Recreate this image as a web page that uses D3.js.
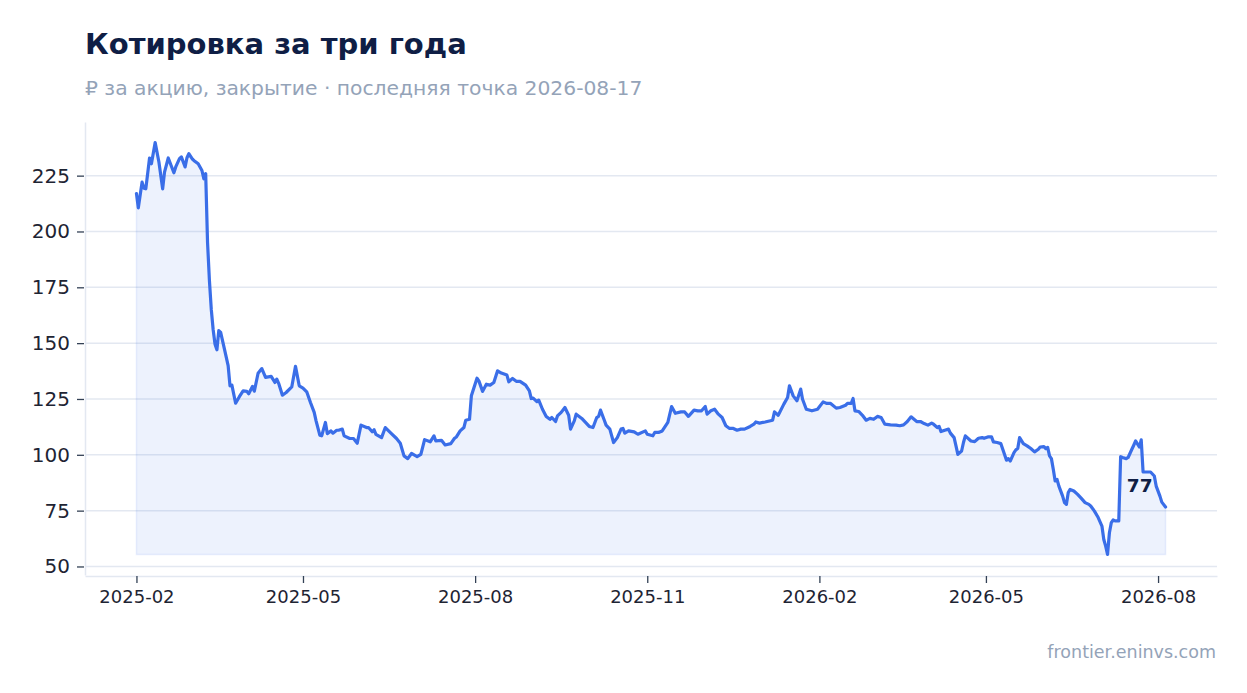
<!DOCTYPE html>
<html>
<head>
<meta charset="utf-8">
<script src="https://cdn.jsdelivr.net/npm/d3@7"></script>
<style>
  body { margin: 0; background: #fff; }
  svg text { font-family: "DejaVu Sans", sans-serif; }
  .grid line { stroke: #e3e8f1; stroke-width: 1.5; }
  .axis path { stroke: #e3e8f1; stroke-width: 1.5; }
  .axis line { stroke: #334155; stroke-width: 1.3; }
  .axis text { fill: #1e2433; }
</style>
</head>
<body>
<div id="chart"></div>
<script>
// closing price per share
const dates = [
  "2025-02-01","2025-02-02","2025-02-04","2025-02-05","2025-02-06","2025-02-08","2025-02-09","2025-02-11","2025-02-13","2025-02-15",
  "2025-02-16","2025-02-18","2025-02-21","2025-02-22","2025-02-24","2025-02-25","2025-02-27","2025-02-28","2025-03-01","2025-03-03",
  "2025-03-04","2025-03-06","2025-03-08","2025-03-09","2025-03-10","2025-03-11","2025-03-12","2025-03-13","2025-03-14","2025-03-15",
  "2025-03-16","2025-03-17","2025-03-18","2025-03-20","2025-03-22","2025-03-23","2025-03-24","2025-03-26","2025-03-28","2025-03-30",
  "2025-04-01","2025-04-02","2025-04-04","2025-04-05","2025-04-07","2025-04-09","2025-04-11","2025-04-14","2025-04-16","2025-04-17",
  "2025-04-18","2025-04-20","2025-04-22","2025-04-25","2025-04-27","2025-04-29","2025-05-01","2025-05-03","2025-05-05","2025-05-07",
  "2025-05-08","2025-05-10","2025-05-11","2025-05-13","2025-05-14","2025-05-16","2025-05-17","2025-05-19","2025-05-20","2025-05-22",
  "2025-05-23","2025-05-26","2025-05-28","2025-05-30","2025-06-01","2025-06-04","2025-06-05","2025-06-07","2025-06-08","2025-06-09",
  "2025-06-12","2025-06-14","2025-06-17","2025-06-20","2025-06-22","2025-06-24","2025-06-26","2025-06-28","2025-07-01","2025-07-03",
  "2025-07-05","2025-07-08","2025-07-10","2025-07-11","2025-07-14","2025-07-16","2025-07-19","2025-07-21","2025-07-22","2025-07-24",
  "2025-07-26","2025-07-27","2025-07-29","2025-07-30","2025-08-02","2025-08-03","2025-08-05","2025-08-07","2025-08-09","2025-08-11",
  "2025-08-13","2025-08-15","2025-08-18","2025-08-19","2025-08-21","2025-08-23","2025-08-25","2025-08-28","2025-08-30","2025-08-31",
  "2025-09-01","2025-09-03","2025-09-04","2025-09-06","2025-09-08","2025-09-10","2025-09-11","2025-09-13","2025-09-14","2025-09-16",
  "2025-09-18","2025-09-20","2025-09-21","2025-09-23","2025-09-24","2025-09-27","2025-09-29","2025-10-01","2025-10-03","2025-10-05",
  "2025-10-06","2025-10-07","2025-10-09","2025-10-10","2025-10-12","2025-10-14","2025-10-16","2025-10-18","2025-10-19","2025-10-20",
  "2025-10-22","2025-10-25","2025-10-27","2025-10-31","2025-11-01","2025-11-04","2025-11-05","2025-11-07","2025-11-09","2025-11-12",
  "2025-11-14","2025-11-16","2025-11-19","2025-11-21","2025-11-23","2025-11-26","2025-11-28","2025-11-30","2025-12-02","2025-12-03",
  "2025-12-05","2025-12-07","2025-12-09","2025-12-11","2025-12-13","2025-12-15","2025-12-17","2025-12-19","2025-12-21","2025-12-23",
  "2025-12-26","2025-12-28","2025-12-29","2025-12-31","2026-01-03","2026-01-07","2026-01-08","2026-01-10","2026-01-13","2026-01-15",
  "2026-01-16","2026-01-18","2026-01-20","2026-01-22","2026-01-23","2026-01-25","2026-01-28","2026-01-31","2026-02-03","2026-02-05",
  "2026-02-07","2026-02-10","2026-02-12","2026-02-15","2026-02-16","2026-02-18","2026-02-19","2026-02-20","2026-02-22","2026-02-24",
  "2026-02-26","2026-02-28","2026-03-02","2026-03-04","2026-03-06","2026-03-08","2026-03-11","2026-03-14","2026-03-16","2026-03-18",
  "2026-03-20","2026-03-22","2026-03-25","2026-03-27","2026-03-29","2026-03-31","2026-04-02","2026-04-03","2026-04-05","2026-04-06",
  "2026-04-07","2026-04-09","2026-04-11","2026-04-12","2026-04-14","2026-04-15","2026-04-16","2026-04-18","2026-04-19","2026-04-20",
  "2026-04-23","2026-04-25","2026-04-27","2026-04-29","2026-04-30","2026-05-02","2026-05-04","2026-05-05","2026-05-07","2026-05-09",
  "2026-05-10","2026-05-12","2026-05-13","2026-05-14","2026-05-16","2026-05-17","2026-05-18","2026-05-19","2026-05-21","2026-05-23",
  "2026-05-25","2026-05-27","2026-05-29","2026-05-30","2026-06-01","2026-06-02","2026-06-03","2026-06-04","2026-06-05","2026-06-06",
  "2026-06-07","2026-06-08","2026-06-09","2026-06-11","2026-06-12","2026-06-13","2026-06-14","2026-06-15","2026-06-17","2026-06-19",
  "2026-06-21","2026-06-23","2026-06-25","2026-06-26","2026-06-28","2026-06-30","2026-07-02","2026-07-03","2026-07-04","2026-07-05",
  "2026-07-06","2026-07-07","2026-07-08","2026-07-09","2026-07-11","2026-07-12","2026-07-13","2026-07-15","2026-07-16","2026-07-18",
  "2026-07-19","2026-07-20","2026-07-22","2026-07-23","2026-07-24","2026-07-26","2026-07-28","2026-07-30","2026-07-31","2026-08-02",
  "2026-08-03","2026-08-05"
];

const prices = [
  217.0,210.6,222.1,219.4,219.1,232.9,230.3,239.8,231.1,219.1,
  226.6,232.9,226.3,228.9,232.6,233.4,228.9,233.0,234.8,232.3,
  231.6,230.3,227.3,223.6,225.9,195.0,178.0,165.0,156.0,149.5,
  147.0,155.6,154.8,147.4,139.9,130.9,131.2,123.1,126.0,128.6,
  128.4,127.3,130.6,128.5,136.5,138.6,134.7,135.1,132.4,133.9,
  132.0,126.7,127.9,130.4,139.6,130.9,129.9,128.2,123.4,119.0,
  115.2,108.8,108.5,114.5,109.5,110.7,109.7,111.0,111.0,111.5,
  108.5,107.3,107.3,105.2,113.3,112.2,112.2,110.3,111.2,109.2,
  107.7,112.2,109.7,107.3,105.2,99.5,98.3,100.6,99.2,100.2,
  106.8,105.8,108.5,106.2,106.5,104.4,105.0,107.4,108.0,110.7,
  112.2,115.5,115.9,126.4,134.3,133.1,128.4,131.6,131.2,132.4,
  137.6,136.6,135.7,132.7,134.2,132.9,132.9,131.2,128.6,125.2,
  125.4,123.8,124.5,120.4,117.2,115.9,116.7,114.9,117.4,119.0,
  121.2,117.7,111.5,115.2,118.2,116.3,114.5,112.7,112.2,116.7,
  117.2,120.0,115.6,113.3,111.5,105.5,107.7,111.5,111.8,109.7,
  110.7,110.3,109.2,110.7,109.2,108.5,110.0,110.0,110.7,114.5,
  121.6,118.6,119.2,119.2,117.2,120.0,119.7,119.7,121.6,118.2,
  119.7,120.4,118.2,116.7,113.0,111.8,111.8,111.0,111.5,111.5,
  112.7,113.7,114.7,114.2,114.7,115.5,119.2,117.7,122.7,125.7,
  130.9,126.4,124.2,129.4,124.9,120.4,119.7,120.4,123.7,123.0,
  123.0,120.9,121.2,122.2,123.0,123.0,125.2,119.7,119.4,117.7,
  115.5,116.3,115.9,117.2,116.7,113.7,113.4,113.3,113.0,113.4,
  114.9,117.0,114.9,114.9,114.0,113.3,114.2,113.7,112.2,112.7,
  110.4,111.0,111.5,109.7,107.7,104.0,100.2,101.7,105.5,108.5,
  106.2,105.9,107.4,107.7,107.4,108.0,108.0,105.8,105.5,105.0,
  102.5,97.6,98.3,97.2,101.0,102.2,102.8,107.7,105.0,104.0,
  102.8,101.3,102.5,103.5,103.7,102.8,103.3,99.5,98.3,93.5,
  88.3,89.0,86.0,81.5,78.6,77.8,83.1,84.5,83.8,82.3,
  80.5,78.6,77.8,77.1,74.8,71.9,68.1,62.1,59.1,55.4,
  65.1,69.6,70.8,70.4,70.4,99.2,98.8,98.3,98.8,102.5,
  104.3,106.2,103.5,106.7,92.3,92.3,92.3,90.5,86.0,81.5,
  78.8,76.6
];

const yTicks = [50, 75, 100, 125, 150, 175, 200, 225];
const xTicks = ["2025-02-01","2025-05-01","2025-08-01","2025-11-01","2026-02-01","2026-05-01","2026-08-01"];

const title = "Котировка за три года";
const subtitle = "₽ за акцию, закрытие · последняя точка 2026-08-17";
const source = "frontier.eninvs.com";

const parse = d3.timeParse("%Y-%m-%d");
let data = dates.map((d, i) => ({ date: parse(d), price: prices[i] }));

let width = 1247,
    height = 693,
    margin = {top: 122, right: 30, bottom: 118, left: 85};

let innerW = width - margin.left - margin.right,
    innerH = height - margin.top - margin.bottom;

let svg = d3.select("#chart")
  .append("svg")
  .attr("width", width)
  .attr("height", height);

// title + subtitle
svg.append("text")
   .attr("x", margin.left)
   .attr("y", 54)
   .attr("font-size", 29)
   .attr("font-weight", "bold")
   .attr("fill", "#0f1e45")
   .text(title);

svg.append("text")
   .attr("x", margin.left)
   .attr("y", 95)
   .attr("font-size", 20.3)
   .attr("fill", "#94a3b8")
   .text(subtitle);

svg.append("text")
   .attr("x", width - margin.right - 1)
   .attr("y", 658)
   .attr("text-anchor", "end")
   .attr("font-size", 17.5)
   .attr("fill", "#94a3b8")
   .text(source);

let g = svg.append("g")
  .attr("transform", `translate(${margin.left},${margin.top})`);

// 5% padding on both scales, like the original
let xExt = d3.extent(data, d => d.date);
let xPad = (xExt[1] - xExt[0]) * 0.05;
let xScale = d3.scaleTime()
  .domain([new Date(+xExt[0] - xPad), new Date(+xExt[1] + xPad)])
  .range([0, innerW]);

let yExt = d3.extent(data, d => d.price);
let yPad = (yExt[1] - yExt[0]) * 0.05;
let yScale = d3.scaleLinear()
  .domain([yExt[0] - yPad, yExt[1] + yPad])
  .range([innerH, 0]);

// horizontal grid
g.append("g")
 .attr("class", "grid")
 .selectAll("line")
 .data(yTicks)
 .enter().append("line")
 .attr("x1", 0)
 .attr("x2", innerW)
 .attr("y1", d => yScale(d))
 .attr("y2", d => yScale(d));

// area down to the lowest close
let area = d3.area()
  .x(d => xScale(d.date))
  .y0(yScale(yExt[0]))
  .y1(d => yScale(d.price));

g.append("path")
 .datum(data)
 .attr("d", area)
 .attr("fill", "#3a6ee8")
 .attr("fill-opacity", 0.09)
 .attr("stroke", "#3a6ee8")
 .attr("stroke-opacity", 0.1)
 .attr("stroke-width", 1.5);

let line = d3.line()
  .x(d => xScale(d.date))
  .y(d => yScale(d.price));

g.append("path")
 .datum(data)
 .attr("d", line)
 .attr("fill", "none")
 .attr("stroke", "#3a6ee8")
 .attr("stroke-width", 3.2)
 .attr("stroke-linejoin", "round")
 .attr("stroke-linecap", "round");

// axes
let xAxis = d3.axisBottom(xScale)
  .tickValues(xTicks.map(parse))
  .tickFormat(d3.timeFormat("%Y-%m"))
  .tickSize(7)
  .tickPadding(7)
  .tickSizeOuter(0);

let yAxis = d3.axisLeft(yScale)
  .tickValues(yTicks)
  .tickSize(7)
  .tickPadding(8)
  .tickSizeOuter(0);

g.append("g")
 .attr("class", "x axis")
 .attr("transform", `translate(0,${innerH + 1})`)
 .call(xAxis)
 .selectAll("text")
 .attr("font-size", 18);

g.append("g")
 .attr("class", "y axis")
 .call(yAxis)
 .selectAll("text")
 .attr("font-size", 20);

g.selectAll(".y.axis .tick line").attr("transform", "translate(-1,0)");

// last value label
let last = data[data.length - 1];
g.append("text")
 .attr("x", xScale(last.date) - 13)
 .attr("y", yScale(last.price) - 15)
 .attr("text-anchor", "end")
 .attr("font-size", 18.5)
 .attr("font-weight", "bold")
 .attr("fill", "#0f1e45")
 .text(d3.format(".0f")(last.price));
</script>
</body>
</html>
